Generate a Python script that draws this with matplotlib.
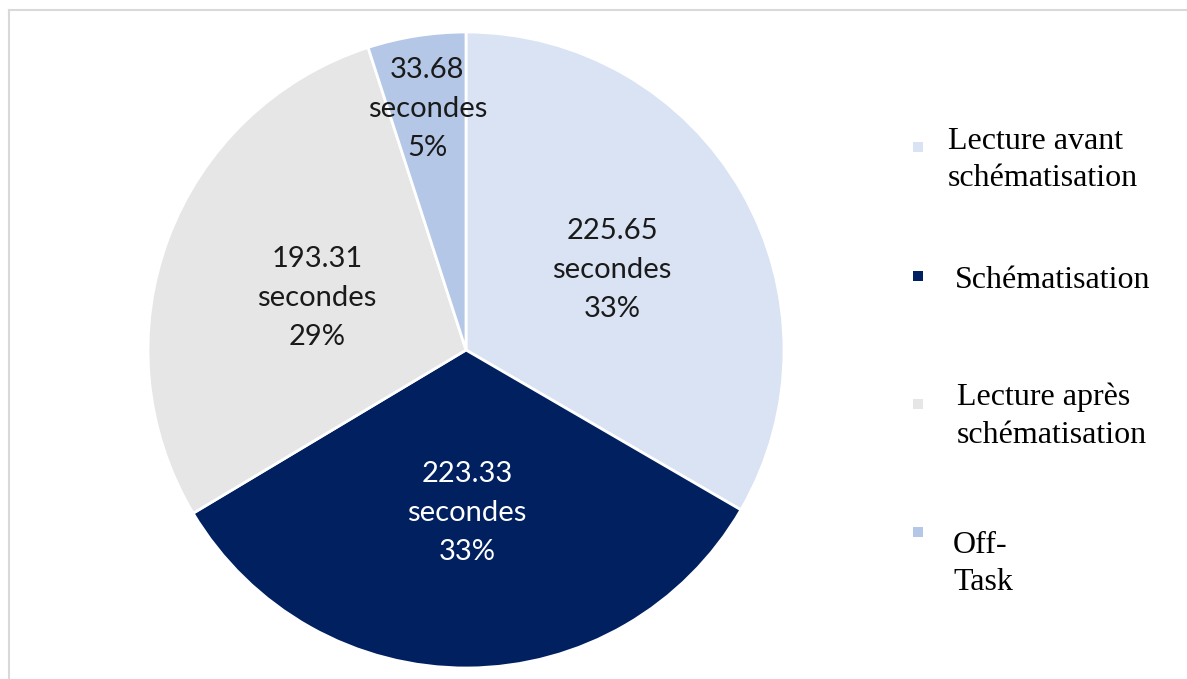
import matplotlib.pyplot as plt
import matplotlib.patches as patches
import matplotlib.transforms as mtransforms
from matplotlib.lines import Line2D
import numpy as np

# data
categories = ["Lecture avant\nschématisation", "Schématisation",
              "Lecture après\nschématisation", "Off-\nTask"]
seconds = [225.65, 223.33, 193.31, 33.68]
colors = ["#DAE3F3", "#002060", "#E6E6E6", "#B4C7E7"]
text_colors = ["#1a1a1a", "white", "#1a1a1a", "#1a1a1a"]
label_dist = [0.53, 0.50, 0.50, 0.78]

W, H = 1187, 679
fig = plt.figure(figsize=(W / 100, H / 100), dpi=100)

# pie axes: centre (466, 350) px, radius 318 px
cx, cy, r = 466, 350, 318
ax = fig.add_axes([(cx - r) / W, (H - cy - r) / H, 2 * r / W, 2 * r / H])
wedges, _ = ax.pie(seconds, colors=colors, startangle=90, counterclock=False,
                   radius=1, wedgeprops=dict(edgecolor="white", linewidth=2))
ax.set_xlim(-1, 1)
ax.set_ylim(-1, 1)
ax.set_aspect("equal")
ax.axis("off")

# small downward nudge so the text block sits like Excel's
nudge = ax.transData + mtransforms.ScaledTranslation(0, -4 / 100, fig.dpi_scale_trans)
total = sum(seconds)
for w, v, tc, d in zip(wedges, seconds, text_colors, label_dist):
    ang = np.deg2rad((w.theta1 + w.theta2) / 2)
    txt = f"{v:.2f}\nsecondes\n{v / total * 100:.0f}%"
    ax.text(d * np.cos(ang), d * np.sin(ang), txt, ha="center", va="center",
            fontsize=21, color=tc, family="Lato", linespacing=1.6, transform=nudge)

# legend, drawn by hand to keep the Excel look
marker_y = [147, 276, 404, 532]
text_y = [160, 280, 416, 564]
text_x = [948, 955, 957, 953]
for c, lab, my, ty, tx in zip(colors, categories, marker_y, text_y, text_x):
    s = 10
    fig.patches.append(patches.Rectangle(((918 - s / 2) / W, (H - my - s / 2) / H),
                                         s / W, s / H, transform=fig.transFigure,
                                         facecolor=c, edgecolor="none"))
    fig.text(tx / W, (H - ty) / H, lab, ha="left", va="center", fontsize=23,
             family="Liberation Serif", color="black", linespacing=1.4)

# chart frame (top and left edges visible)
fig.lines.append(Line2D([8.5 / W, 1.0], [(H - 9.5) / H] * 2, transform=fig.transFigure,
                        color="#D9D9D9", linewidth=1.5))
fig.lines.append(Line2D([8.5 / W] * 2, [0, (H - 9.5) / H], transform=fig.transFigure,
                        color="#D9D9D9", linewidth=1.5))

plt.savefig("out.png", dpi=100)
